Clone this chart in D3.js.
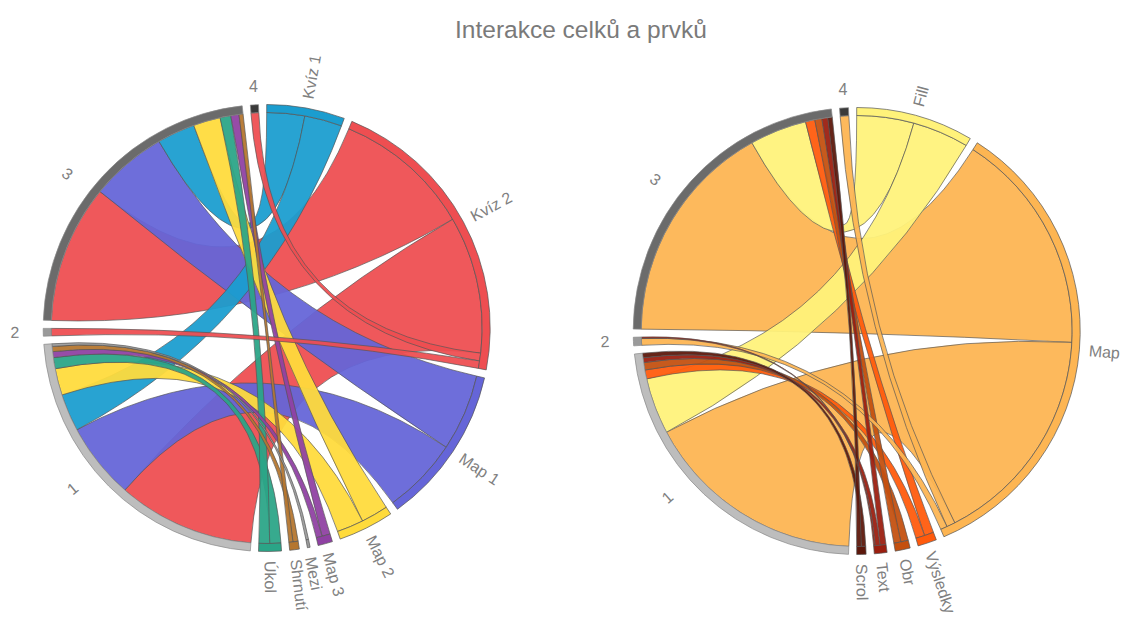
<!DOCTYPE html>
<html><head><meta charset="utf-8">
<script src="https://cdn.jsdelivr.net/npm/d3@7"></script>
<style>body{margin:0;background:#fff;} svg{display:block;font-family:"Liberation Sans",Arial,sans-serif;}</style>
</head><body>
<svg id="c" width="1137" height="621"></svg>
<script>
const titleText = "Interakce celků a prvků";

// shared source groups (units)
const units = ["1", "2", "3", "4"];
const unitColors = ["#bdbdbd", "#9a9a9a", "#6b6b6b", "#3a3a3a"];

// ---- left chart: units x lesson parts ----
const partsA = ["Kvíz 1", "Kvíz 2", "Map 1", "Map 2", "Map 3", "Mezi", "Shrnutí", "Úkol"];
const partColorsA = ["#1b9dcf", "#ee4e51", "#6565d8", "#ffdb3b", "#8f41a3", "#9c9c9c", "#b5762f", "#2aa587"];
const unit1A = [10.1, 37.0, 20.6, 7.2, 1.6, 0.7, 1.4, 3.0];
const unit2A = [0, 2.0, 0, 0, 0, 0, 0, 0];
const unit3A = [10.2, 37.3, 20.7, 7.3, 2.2, 0, 1.1, 2.9];
const unit4A = [0, 2.1, 0, 0, 0, 0, 0, 0];

// ---- right chart: units x elements ----
const partsB = ["Fill", "Map", "Výsledky", "Obr", "Text", "Scrol"];
const partColorsB = ["#fff27a", "#fdb552", "#ff5a0c", "#c4500f", "#9b1e0f", "#5c170b"];
const unit1B = [15.1, 59.6, 2.4, 2.0, 1.3, 1.2];
const unit2B = [0, 1.8, 0, 0, 0.4, 0];
const unit3B = [15.3, 60.1, 2.5, 1.9, 1.6, 1.2];
const unit4B = [0, 2.3, 0, 0, 0, 0];

const svg = d3.select("#c");
svg.append("text").attr("x", 581).attr("y", 38).attr("text-anchor", "middle")
  .attr("font-size", 24.5).attr("fill", "#7a7a7a").text(titleText);

const rOut = 223.5, rIn = 215.5;
const padAngle = 2.1 * Math.PI / 180;

function drawChord(cx, cy, parts, partColors, rows) {
  const names = parts.concat(units);
  const colors = partColors.concat(unitColors);
  const n = names.length, P = parts.length;
  // symmetric matrix: part <-> unit
  const matrix = Array.from({length: n}, () => new Array(n).fill(0));
  rows.forEach((row, u) => row.forEach((v, p) => { matrix[P + u][p] = v; matrix[p][P + u] = v; }));
  const chords = d3.chord().padAngle(padAngle).sortSubgroups(d3.descending)(matrix);
  const g = svg.append("g").attr("transform", `translate(${cx},${cy})`);
  const partOf = c => (c.source.index < P ? c.source.index : c.target.index);
  const list = Array.from(chords).sort((a, b) => b.source.value - a.source.value);
  g.append("g").selectAll("path").data(list).join("path")
    .attr("d", d3.ribbon().radius(rIn))
    .attr("fill", d => colors[partOf(d)]).attr("fill-opacity", 0.94)
    .attr("stroke", "#555").attr("stroke-width", 0.8).attr("stroke-opacity", 0.85);
  const arc = d3.arc().innerRadius(rIn).outerRadius(rOut);
  g.append("g").selectAll("path").data(chords.groups).join("path")
    .attr("d", arc).attr("fill", d => colors[d.index])
    .attr("stroke", d => d.index >= P ? "#8a8a8a" : "#555").attr("stroke-width", 0.7);
  const lab = g.append("g").attr("font-size", 16).attr("fill", "#808080");
  chords.groups.forEach(gr => {
    const name = names[gr.index];
    let deg = (gr.startAngle + gr.endAngle) / 2 * 180 / Math.PI;
    const single = name.length === 1;
    let rot, anchor, r;
    if (deg > 354 || deg < 3) { rot = 0; anchor = "middle"; r = 242; }
    else if (deg < 180) { rot = deg - 90; anchor = single ? "middle" : "start"; r = single ? 252 : 233; }
    else {
      if (single) deg += (270 - deg) * 0.12;  // unit labels sit nearer the horizontal
      rot = deg - 270; anchor = single ? "middle" : "end"; r = single ? 252 : 233;
    }
    const th = deg * Math.PI / 180;
    const x = r * Math.sin(th), y = -r * Math.cos(th);
    lab.append("text").attr("transform", `translate(${x},${y}) rotate(${rot})`)
      .attr("text-anchor", anchor).attr("dy", "0.35em").text(name);
  });
}

drawChord(266.7, 328, partsA, partColorsA, [unit1A, unit2A, unit3A, unit4A]);
drawChord(856.7, 331, partsB, partColorsB, [unit1B, unit2B, unit3B, unit4B]);
</script>
</body></html>
